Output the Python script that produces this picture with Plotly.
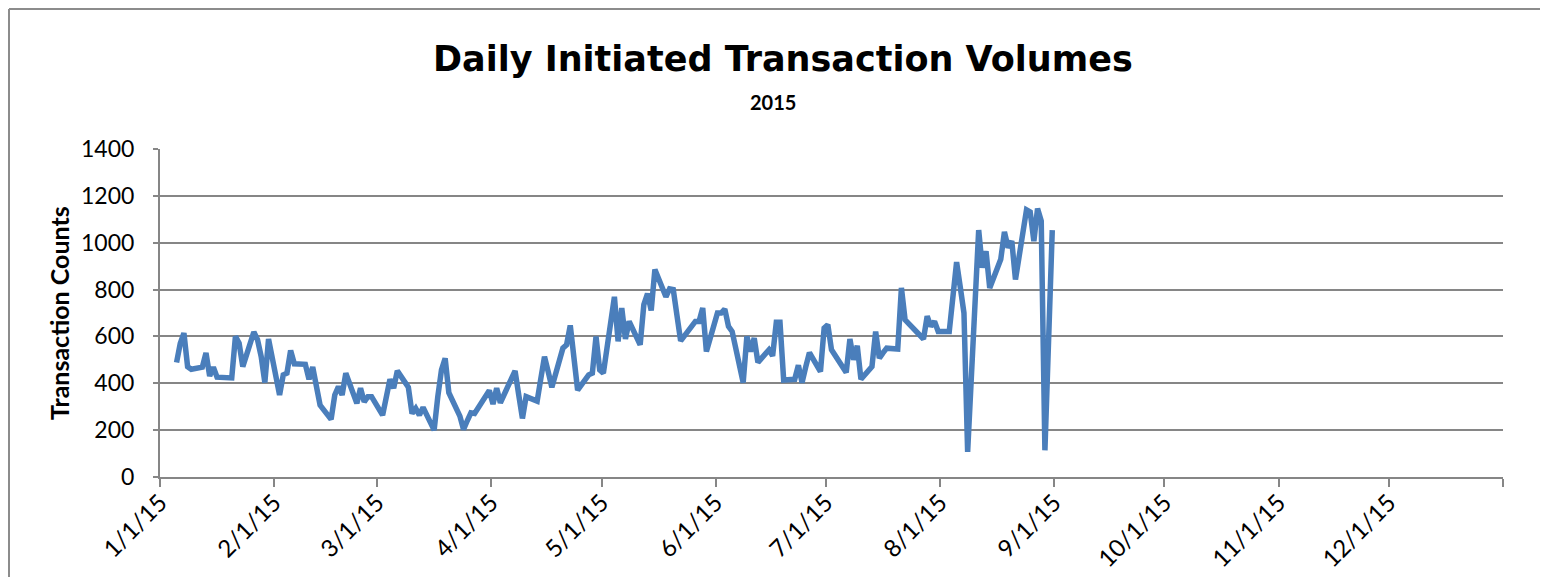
import pandas as pd
import plotly.graph_objects as go

# ---- data ----
dates = [
    "2015-01-05", "2015-01-06", "2015-01-07", "2015-01-08", "2015-01-09",
    "2015-01-12", "2015-01-13", "2015-01-14", "2015-01-15", "2015-01-16",
    "2015-01-20", "2015-01-21", "2015-01-22", "2015-01-23",
    "2015-01-26", "2015-01-27", "2015-01-28", "2015-01-29", "2015-01-30",
    "2015-02-02", "2015-02-03", "2015-02-04", "2015-02-05", "2015-02-06",
    "2015-02-09", "2015-02-10", "2015-02-11", "2015-02-12", "2015-02-13",
    "2015-02-16", "2015-02-17", "2015-02-18", "2015-02-19", "2015-02-20",
    "2015-02-23", "2015-02-24", "2015-02-25", "2015-02-26", "2015-02-27",
    "2015-03-02", "2015-03-03", "2015-03-04", "2015-03-05", "2015-03-06",
    "2015-03-09", "2015-03-10", "2015-03-11", "2015-03-12", "2015-03-13",
    "2015-03-16", "2015-03-17", "2015-03-18", "2015-03-19", "2015-03-20",
    "2015-03-23", "2015-03-24", "2015-03-25", "2015-03-26", "2015-03-27",
    "2015-03-30", "2015-03-31", "2015-04-01", "2015-04-02", "2015-04-03",
    "2015-04-06", "2015-04-07", "2015-04-08", "2015-04-09", "2015-04-10",
    "2015-04-13", "2015-04-14", "2015-04-15", "2015-04-16", "2015-04-17",
    "2015-04-20", "2015-04-21", "2015-04-22", "2015-04-23", "2015-04-24",
    "2015-04-27", "2015-04-28", "2015-04-29", "2015-04-30", "2015-05-01",
    "2015-05-04", "2015-05-05", "2015-05-06", "2015-05-07", "2015-05-08",
    "2015-05-11", "2015-05-12", "2015-05-13", "2015-05-14", "2015-05-15",
    "2015-05-18", "2015-05-19", "2015-05-20", "2015-05-21", "2015-05-22",
    "2015-05-26", "2015-05-27", "2015-05-28", "2015-05-29",
    "2015-06-01", "2015-06-02", "2015-06-03", "2015-06-04", "2015-06-05",
    "2015-06-08", "2015-06-09", "2015-06-10", "2015-06-11", "2015-06-12",
    "2015-06-15", "2015-06-16", "2015-06-17", "2015-06-18", "2015-06-19",
    "2015-06-22", "2015-06-23", "2015-06-24", "2015-06-25", "2015-06-26",
    "2015-06-29", "2015-06-30", "2015-07-01", "2015-07-02",
    "2015-07-06", "2015-07-07", "2015-07-08", "2015-07-09", "2015-07-10",
    "2015-07-13", "2015-07-14", "2015-07-15", "2015-07-16", "2015-07-17",
    "2015-07-20", "2015-07-21", "2015-07-22", "2015-07-23", "2015-07-24",
    "2015-07-27", "2015-07-28", "2015-07-29", "2015-07-30", "2015-07-31",
    "2015-08-03", "2015-08-04", "2015-08-05", "2015-08-06", "2015-08-07",
    "2015-08-08", "2015-08-11", "2015-08-12", "2015-08-13", "2015-08-14",
    "2015-08-17", "2015-08-18", "2015-08-19", "2015-08-20", "2015-08-21",
    "2015-08-24", "2015-08-25", "2015-08-26", "2015-08-27", "2015-08-28",
    "2015-08-29", "2015-08-31",
]

counts = [
    489, 570, 614, 471, 460,
    469, 529, 431, 469, 426,
    423, 600, 571, 471,
    619, 586, 514, 403, 589,
    350, 436, 443, 540, 483,
    481, 417, 469, 386, 307,
    246, 350, 386, 350, 443,
    314, 379, 321, 343, 343,
    264, 340, 417, 379, 453,
    383, 271, 293, 264, 297,
    200, 343, 457, 507, 360,
    260, 203, 240, 274, 271,
    345, 369, 311, 379, 317,
    410, 453, 350, 250, 343,
    324, 420, 514, 450, 383,
    550, 564, 647, 510, 371,
    436, 443, 600, 457, 443,
    769, 579, 721, 589, 664,
    564, 736, 783, 711, 886,
    769, 803, 800, 690, 581,
    664, 664, 721, 536,
    700, 700, 717, 643, 621,
    403, 600, 536, 593, 489,
    543, 517, 660, 660, 414,
    417, 477, 403, 470, 531,
    450, 636, 650, 543,
    446, 589, 500, 560, 417,
    471, 621, 507, 530, 550,
    546, 807, 671, 655, 640,
    589, 686, 643, 664, 621,
    621, 770, 917, 810, 700,
    107, 1054, 893, 964, 807,
    929, 1046, 979, 1007, 843,
    1140, 1131, 1007, 1146, 1093,
    114, 1054,
]

tick_dates = ["2015-01-01", "2015-02-01", "2015-03-01", "2015-04-01", "2015-05-01",
              "2015-06-01", "2015-07-01", "2015-08-01", "2015-09-01", "2015-10-01",
              "2015-11-01", "2015-12-01", "2016-01-01"]
tick_labels = ["1/1/15", "2/1/15", "3/1/15", "4/1/15", "5/1/15", "6/1/15", "7/1/15",
               "8/1/15", "9/1/15", "10/1/15", "11/1/15", "12/1/15", ""]

title_text = "Daily Initiated Transaction Volumes"
subtitle_text = "2015"
y_title = "Transaction Counts"

# Excel date axis places each day's point in the middle of its day slot
x_vals = pd.to_datetime(dates) + pd.Timedelta(hours=12)

GRID = "#868686"
FONT = "Lato"

# figure sized to fit inside the window together with the page's 8px body margin
FIG_W, FIG_H, OFF = 1532, 569, 8
# plot area in page pixels
PL, PR, PT, PB = 160, 1503, 149, 477
PW, PH = PR - PL, PB - PT


def px(x):
    return (x - PL) / PW


def py(y):
    return (PB - y) / PH


fig = go.Figure()
fig.add_trace(go.Scatter(
    x=x_vals, y=counts, mode="lines",
    line=dict(color="#4a7ebb", width=5.5),
    hoverinfo="x+y", showlegend=False,
))

fig.update_layout(
    width=FIG_W, height=FIG_H,
    margin=dict(l=PL - OFF, r=OFF + FIG_W - PR, t=PT - OFF, b=OFF + FIG_H - PB,
                autoexpand=False),
    paper_bgcolor="white", plot_bgcolor="white",
    font=dict(family=FONT, color="black"),
    xaxis=dict(
        type="date", range=["2015-01-01", "2016-01-01"], automargin=False,
        tickmode="array", tickvals=tick_dates, ticktext=tick_labels,
        tickangle=-45, ticks="outside", ticklen=8, tickwidth=2, tickcolor=GRID,
        showline=True, linecolor=GRID, linewidth=2, showgrid=False,
        zeroline=False, tickfont=dict(family=FONT, size=24, color="black"),
        ticklabelstandoff=-8,
    ),
    yaxis=dict(
        range=[0, 1400], dtick=200, tick0=0, automargin=False,
        showgrid=True, gridcolor=GRID, gridwidth=2,
        showline=True, linecolor=GRID, linewidth=2, zeroline=False,
        ticks="outside", ticklen=5, tickwidth=2, tickcolor=GRID,
        tickfont=dict(family=FONT, size=23, color="black"),
        ticklabelstandoff=14,
    ),
    annotations=[
        dict(text="<b>%s</b>" % title_text, xref="paper", yref="paper",
             x=px(783), y=py(59), xanchor="center", yanchor="middle",
             showarrow=False, font=dict(family="DejaVu Sans", size=35, color="black")),
        dict(text="<b>%s</b>" % subtitle_text, xref="paper", yref="paper",
             x=px(773), y=py(102), xanchor="center", yanchor="middle",
             showarrow=False, font=dict(family=FONT, size=20, color="black")),
        dict(text="<b>%s</b>" % y_title, xref="paper", yref="paper",
             x=px(59), y=py(313), xanchor="center", yanchor="middle",
             textangle=-90, showarrow=False, font=dict(family=FONT, size=25, color="black")),
    ],
    shapes=[
        dict(type="line", xref="paper", yref="paper",
             x0=px(9), x1=px(9), y0=py(OFF + FIG_H), y1=py(9),
             line=dict(color="#8c8c8c", width=2)),
        dict(type="line", xref="paper", yref="paper",
             x0=px(9), x1=px(OFF + FIG_W), y0=py(9), y1=py(9),
             line=dict(color="#8c8c8c", width=2)),
    ],
)

fig.write_html("out.html")
